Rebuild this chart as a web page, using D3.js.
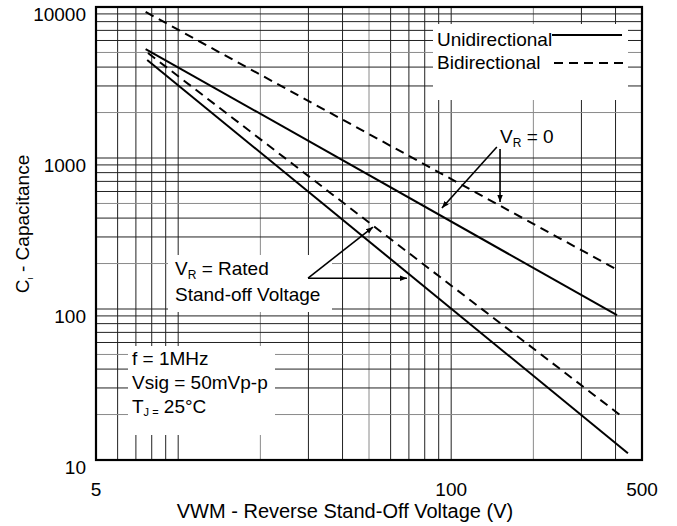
<!DOCTYPE html>
<html>
<head>
<meta charset="utf-8">
<script src="https://d3js.org/d3.v7.min.js"></script>
<style>
  html, body { margin: 0; padding: 0; background: #fff; }
  svg { font-family: "Liberation Sans", Arial, sans-serif; }
</style>
</head>
<body>
<div id="chart"></div>
<script>
// values (volts, picofarads)
const uniZeroV = [7.6, 405];
const uniZeroC = [5270, 91];
const biZeroV = [7.6, 401];
const biZeroC = [9270, 184];
const uniRatedV = [7.7, 444];
const uniRatedC = [4460, 11.1];
const biRatedV = [7.75, 415];
const biRatedC = [4955, 19.9];

const xTickLabels = [5, 100, 500];
const yTickLabels = [10, 100, 1000, 10000];
const legendNames = ['Unidirectional', 'Bidirectional'];

const W = 677, H = 526;
const FS = 19;
const svg = d3.select('#chart').append('svg')
  .attr('width', W).attr('height', H);

const x = d3.scaleLog().domain([5, 500]).range([96, 642]);
const y = d3.scaleLog().domain([10, 10000]).range([460, 7]);

// grid
const xGrid = [];
for (let v = 5; v <= 9; v++) xGrid.push(v);
for (let v = 10; v <= 90; v += 10) xGrid.push(v);
for (let v = 100; v <= 500; v += 100) xGrid.push(v);
const yGrid = [];
[10, 100, 1000].forEach(d => { for (let m = 1; m <= 9; m++) yGrid.push(m * d) });
yGrid.push(10000);

const mant = v => Math.round(v / Math.pow(10, Math.floor(Math.log10(v) + 1e-9)));
const gridCol = v => (mant(v) === 2 || mant(v) === 5) ? '#8a8a8a' : '#222';

svg.append('g').selectAll('line').data(xGrid).enter().append('line')
  .attr('x1', d => x(d)).attr('x2', d => x(d))
  .attr('y1', y(10000)).attr('y2', y(10))
  .attr('stroke', gridCol).attr('stroke-width', 1);
svg.append('g').selectAll('line').data(yGrid).enter().append('line')
  .attr('x1', x(5)).attr('x2', x(500))
  .attr('y1', d => y(d)).attr('y2', d => y(d))
  .attr('stroke', gridCol).attr('stroke-width', 1);

// white boxes over grid
const boxes = [
  [433, 24, 195, 76],   // legend
  [168, 255, 164, 57],  // rated note
  [128, 346, 147, 89]   // conditions
];
svg.append('g').selectAll('rect').data(boxes).enter().append('rect')
  .attr('x', d => d[0]).attr('y', d => d[1])
  .attr('width', d => d[2]).attr('height', d => d[3])
  .attr('fill', '#fff');

// frame
svg.append('rect')
  .attr('x', x(5)).attr('y', y(10000))
  .attr('width', x(500) - x(5)).attr('height', y(10) - y(10000))
  .attr('fill', 'none').attr('stroke', '#000').attr('stroke-width', 2.2);

// curves
const line = d3.line().x(d => x(d[0])).y(d => y(d[1]));
const series = [
  { v: uniZeroV, c: uniZeroC, dash: null },
  { v: biZeroV, c: biZeroC, dash: '9,6' },
  { v: uniRatedV, c: uniRatedC, dash: null },
  { v: biRatedV, c: biRatedC, dash: '9,6' }
];
svg.append('g').selectAll('path').data(series).enter().append('path')
  .attr('d', s => line(s.v.map((v, i) => [v, s.c[i]])))
  .attr('fill', 'none').attr('stroke', '#000').attr('stroke-width', 2)
  .attr('stroke-dasharray', s => s.dash);

// axis labels
svg.append('g').selectAll('text').data(yTickLabels).enter().append('text')
  .attr('x', 86).attr('y', d => y(d) + 7)
  .attr('dy', '0.35em').attr('text-anchor', 'end')
  .attr('font-size', FS).text(d => d);
svg.append('g').selectAll('text').data(xTickLabels).enter().append('text')
  .attr('x', d => x(d)).attr('y', 489)
  .attr('dy', '0.35em').attr('text-anchor', 'middle')
  .attr('font-size', FS).text(d => d);

svg.append('text')
  .attr('x', 345).attr('y', 511)
  .attr('dy', '0.35em').attr('text-anchor', 'middle')
  .attr('font-size', 20).text('VWM - Reverse Stand-Off Voltage (V)');

const yt = svg.append('text')
  .attr('transform', 'translate(22,224) rotate(-90)')
  .attr('text-anchor', 'middle').attr('dy', '0.35em')
  .attr('font-size', FS);
yt.append('tspan').text('C');
yt.append('tspan').attr('font-size', 8).attr('dy', 4).text('I');
yt.append('tspan').attr('dy', -4).text(' - Capacitance');

// legend
svg.append('g').selectAll('text').data(legendNames).enter().append('text')
  .attr('x', 437).attr('y', (d, i) => 46 + i * 23)
  .attr('font-size', FS).text(d => d);
svg.append('line').attr('x1', 552).attr('x2', 622).attr('y1', 35).attr('y2', 35)
  .attr('stroke', '#000').attr('stroke-width', 2);
svg.append('line').attr('x1', 554).attr('x2', 628).attr('y1', 63).attr('y2', 63)
  .attr('stroke', '#000').attr('stroke-width', 2).attr('stroke-dasharray', '9,6');

// arrows
svg.append('defs').append('marker')
  .attr('id', 'ah').attr('viewBox', '0 0 10 10')
  .attr('refX', 10).attr('refY', 5)
  .attr('markerWidth', 7).attr('markerHeight', 7)
  .attr('markerUnits', 'userSpaceOnUse')
  .attr('orient', 'auto')
  .append('path').attr('d', 'M0,1 L10,5 L0,9 Z').attr('fill', '#000');

const arrows = [
  [[147, 1183], [92.5, 467]],
  [[151, 1148], [151, 512]],
  [[29.9, 160], [51.7, 349]],
  [[29.9, 160], [68.9, 160]]
];
svg.append('g').selectAll('line').data(arrows).enter().append('line')
  .attr('x1', d => x(d[0][0])).attr('y1', d => y(d[0][1]))
  .attr('x2', d => x(d[1][0])).attr('y2', d => y(d[1][1]))
  .attr('stroke', '#000').attr('stroke-width', 1.6)
  .attr('marker-end', 'url(#ah)');

// annotations
function sub(xx, yy, base, subs, rest) {
  const t = svg.append('text').attr('x', xx).attr('y', yy).attr('font-size', FS);
  t.append('tspan').text(base);
  t.append('tspan').attr('font-size', 12).attr('dy', 4).text(subs);
  t.append('tspan').attr('dy', -4).text(rest);
  return t;
}
sub(500, 143, 'V', 'R', ' = 0');
sub(175, 275, 'V', 'R', ' = Rated');
svg.append('text').attr('x', 175).attr('y', 301).attr('font-size', FS).text('Stand-off Voltage');

svg.append('text').attr('x', 132).attr('y', 365).attr('font-size', FS).text('f = 1MHz');
svg.append('text').attr('x', 132).attr('y', 389).attr('font-size', FS).text('Vsig = 50mVp-p');
const tj = svg.append('text').attr('x', 132).attr('y', 413).attr('font-size', FS);
tj.append('tspan').text('T');
tj.append('tspan').attr('font-size', 11).attr('dy', 3).text('J =');
tj.append('tspan').attr('dy', -3).text(' 25°C');
</script>
</body>
</html>
